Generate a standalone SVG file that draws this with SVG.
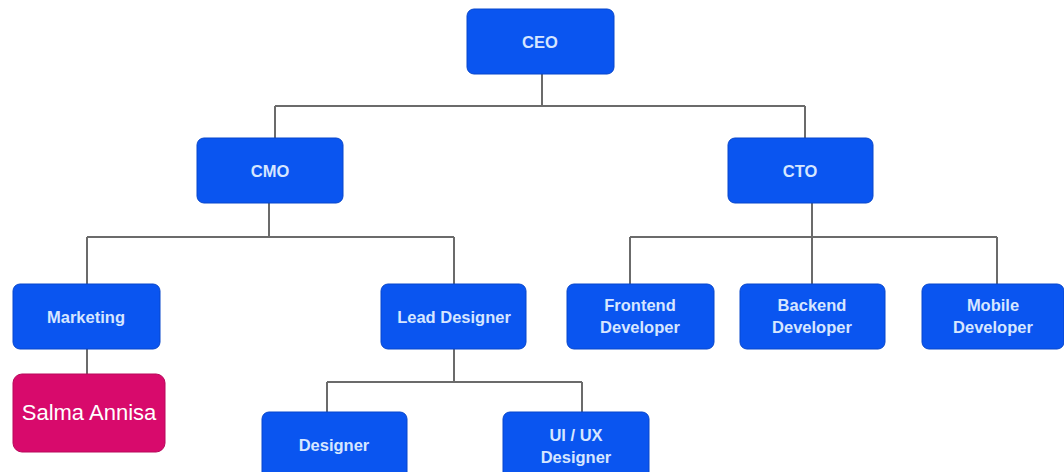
<svg xmlns="http://www.w3.org/2000/svg" width="1064" height="472" viewBox="0 0 1064 472">
<style>
.n{fill:#0a55f0;stroke:#0646cc;stroke-width:1}
.p{fill:#d80a6c;stroke:#b8085a;stroke-width:1}
.t{font-family:"Liberation Sans",Arial,sans-serif;font-weight:bold;font-size:16.5px;fill:#d6e6ff;text-anchor:middle}
.s{font-family:"Liberation Sans",Arial,sans-serif;font-size:22px;fill:#ffffff;text-anchor:middle}
.c{fill:none;stroke:#6b6b6b;stroke-width:2}
</style>
<rect width="1064" height="472" fill="#ffffff"/>
<g id="connectors">
<path class="c" d="M542 74V106M275 106H805M275 106V138M805 106V138"/>
<path class="c" d="M269 203V237M87 237H454M87 237V284M454 237V284"/>
<path class="c" d="M812 203V237M630 237H997M630 237V284M812 237V284M997 237V284"/>
<path class="c" d="M87 349V374"/>
<path class="c" d="M454 349V382M327 382H582M327 382V412M582 382V412"/>
</g>
<g id="ceo"><rect class="n" x="467" y="9" width="147" height="65" rx="7"/><text class="t" x="540" y="48">CEO</text></g>
<g id="cmo"><rect class="n" x="197" y="138" width="146" height="65" rx="7"/><text class="t" x="270" y="177">CMO</text></g>
<g id="cto"><rect class="n" x="728" y="138" width="145" height="65" rx="7"/><text class="t" x="800" y="177">CTO</text></g>
<g id="marketing"><rect class="n" x="13" y="284" width="147" height="65" rx="7"/><text class="t" x="86" y="323">Marketing</text></g>
<g id="salma"><rect class="p" x="13" y="374" width="152" height="78" rx="9"/><text class="s" x="89" y="420">Salma Annisa</text></g>
<g id="lead-designer"><rect class="n" x="381" y="284" width="145" height="65" rx="7"/><text class="t" x="454" y="323">Lead Designer</text></g>
<g id="frontend"><rect class="n" x="567" y="284" width="147" height="65" rx="7"/><text class="t" x="640" y="311">Frontend</text><text class="t" x="640" y="333">Developer</text></g>
<g id="backend"><rect class="n" x="740" y="284" width="145" height="65" rx="7"/><text class="t" x="812" y="311">Backend</text><text class="t" x="812" y="333">Developer</text></g>
<g id="mobile"><rect class="n" x="922" y="284" width="142" height="65" rx="7"/><text class="t" x="993" y="311">Mobile</text><text class="t" x="993" y="333">Developer</text></g>
<g id="designer"><rect class="n" x="262" y="412" width="145" height="70" rx="7"/><text class="t" x="334" y="451">Designer</text></g>
<g id="uiux"><rect class="n" x="503" y="412" width="146" height="70" rx="7"/><text class="t" x="576" y="441">UI / UX</text><text class="t" x="576" y="463">Designer</text></g>
</svg>
